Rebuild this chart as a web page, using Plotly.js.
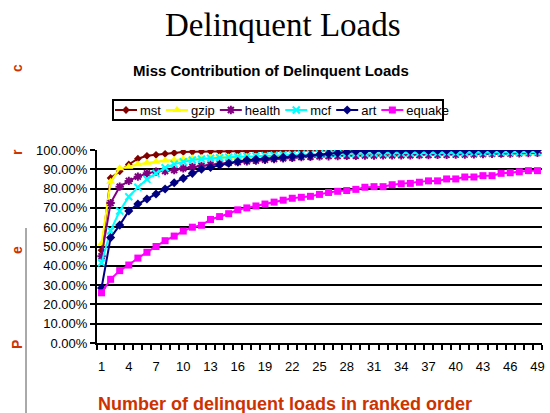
<!DOCTYPE html>
<html>
<head>
<meta charset="utf-8">
<script src="https://cdn.plot.ly/plotly-3.0.1.min.js"></script>
<style>
html,body{margin:0;padding:0;background:#fff;}
#chart{width:550px;height:413px;}
</style>
</head>
<body>
<div id="chart"></div>
<script>
var categories = [1,2,3,4,5,6,7,8,9,10,11,12,13,14,15,16,17,18,19,20,21,22,23,24,25,26,27,28,29,30,31,32,33,34,35,36,37,38,39,40,41,42,43,44,45,46,47,48,49];
var tickValues = [1,4,7,10,13,16,19,22,25,28,31,34,37,40,43,46,49];
var tickLabels = ['1','4','7','10','13','16','19','22','25','28','31','34','37','40','43','46','49'];
var yTicks = [0,10,20,30,40,50,60,70,80,90,100];
var yTickLabels = ['0.00%','10.00%','20.00%','30.00%','40.00%','50.00%','60.00%','70.00%','80.00%','90.00%','100.00%'];

var mst = [48,85.5,89,92.5,95.5,97,97.5,98,98.5,99,99.1,99.2,99.3,99.3,99.4,99.4,99.5,99.5,99.5,99.6,99.6,99.7,99.7,99.7,99.8,99.8,99.8,99.8,99.9,99.9,99.9,99.9,99.9,99.9,100,100,100,100,100,100,100,100,100,100,100,100,100,100,100];
var gzip = [51.5,83.5,90.5,91.3,92.6,93.4,93.9,94.5,94.8,95.3,95.7,95.9,96,96.2,96.3,96.4,96.5,96.6,96.7,96.8,96.9,97,97,97.1,97.2,97.3,97.3,97.4,97.5,97.5,97.6,97.7,97.7,97.8,97.8,97.9,97.9,98,98,98.1,98.1,98.2,98.2,98.3,98.3,98.4,98.4,98.5,98.5];
var health = [45,72.5,81,84,86.2,87.9,88.8,89.1,89.6,90.5,91.2,91.8,92.4,92.9,93.3,93.7,94.1,94.5,94.9,95.3,95.7,96,96.3,96.5,96.7,96.8,96.9,97,97,97.1,97.1,97.2,97.2,97.3,97.3,97.4,97.4,97.5,97.5,97.6,97.7,97.8,97.9,98,98.1,98.2,98.3,98.4,98.5];
var mcf = [41.6,58.2,68.4,75.8,80.7,84.8,87.9,90.8,92.7,93.9,94.8,95.3,95.7,96,96.3,96.5,96.7,96.9,97.1,97.3,97.5,97.7,97.8,97.9,98,98.1,98.1,98.2,98.2,98.3,98.3,98.3,98.4,98.4,98.4,98.5,98.5,98.5,98.6,98.6,98.6,98.7,98.7,98.7,98.8,98.8,98.8,98.9,98.9];
var art = [28.5,54.6,61.1,68.4,72,74.6,77.2,79.8,83,85.3,87.9,90,91,92.2,93.1,94,94.8,95.2,95.5,95.8,96.2,96.6,96.9,97.2,97.6,98,98.5,99,99.3,99.5,99.6,99.6,99.7,99.7,99.7,99.8,99.8,99.8,99.8,99.9,99.9,99.9,99.9,99.9,100,100,100,100,100];
var equake = [26,33,37.5,40.4,44,47,50,53,55.4,58,60,61,64,65.5,67,69,70,71,72,73,74,75,75.5,76,77,78,78.6,79,79.6,80.7,81,81,82,82.5,82.7,83.3,84,84,85,85,86,86,86.7,86.7,87.9,88.2,88.7,89.3,89.3];

var seriesNames = ['mst','gzip','health','mcf','art','equake'];
var seriesData = [mst, gzip, health, mcf, art, equake];
var seriesColors = ['#800000','#FFFF00','#800080','#00FFFF','#000080','#FF00FF'];
var seriesSymbols = ['diamond','triangle-up','asterisk-open','x-thin-open','diamond','square'];
var seriesSizes = [6,8,7,7,7,7];

var traces = seriesNames.map(function(name, i){
  var open = seriesSymbols[i].indexOf('open') >= 0;
  return {
    type: 'scatter',
    mode: 'lines+markers',
    name: name,
    x: categories,
    y: seriesData[i],
    line: {color: seriesColors[i], width: 2},
    marker: {symbol: seriesSymbols[i], size: seriesSizes[i], color: seriesColors[i],
             line: {color: seriesColors[i], width: open ? 2 : 0}}
  };
});

var orange = '#CC3300';
var F = 'Liberation Sans, Arial, sans-serif';
function py(p){ return (343 - p) / 193; }
function px(p){ return (p - 97) / 445; }

var layout = {
  width: 550, height: 413,
  margin: {l: 97, r: 8, t: 150, b: 70},
  paper_bgcolor: '#fff', plot_bgcolor: '#fff',
  font: {family: F, size: 13, color: '#000'},
  showlegend: true,
  legend: {
    orientation: 'h', x: px(278), xanchor: 'center', y: py(99), yanchor: 'top',
    bordercolor: '#000', borderwidth: 2, bgcolor: '#fff',
    font: {family: F, size: 13, color: '#000'},
    itemwidth: 30, tracegroupgap: 0
  },
  xaxis: {
    range: [0.5, 49.5], tickvals: tickValues, ticktext: tickLabels,
    ticks: '', showgrid: false, zeroline: false,
    showline: true, linecolor: '#000', linewidth: 2,
    tickfont: {family: F, size: 13, color: '#000'},
    ticklabelstandoff: 10,
    minor: {tick0: 0.5, dtick: 1, ticks: 'outside', ticklen: 5, tickwidth: 2, tickcolor: '#000', showgrid: false}
  },
  yaxis: {
    range: [0, 100], tickvals: yTicks, ticktext: yTickLabels,
    ticks: 'outside', ticklen: 5, tickwidth: 2, tickcolor: '#000',
    showgrid: true, gridcolor: '#000', gridwidth: 2, zeroline: false,
    showline: true, linecolor: '#000', linewidth: 2,
    tickfont: {family: F, size: 13, color: '#000'}
  },
  annotations: [
    {text: 'Delinquent Loads', xref: 'paper', yref: 'paper', x: px(283), y: py(25), xanchor: 'center', yanchor: 'middle', showarrow: false,
     font: {family: 'Liberation Serif, Times New Roman, serif', size: 33, color: '#000'}},
    {text: '<b>Miss Contribution of Delinquent Loads</b>', xref: 'paper', yref: 'paper', x: px(271), y: py(70), xanchor: 'center', yanchor: 'middle', showarrow: false,
     font: {family: F, size: 15, color: '#000'}},
    {text: '<b>Number of delinquent loads in ranked order</b>', xref: 'paper', yref: 'paper', x: px(285), y: py(404), xanchor: 'center', yanchor: 'middle', showarrow: false,
     font: {family: F, size: 18, color: orange}},
    {text: '<b>c</b>', xref: 'paper', yref: 'paper', x: px(17), y: py(68), xanchor: 'center', yanchor: 'middle', showarrow: false, textangle: -90,
     font: {family: F, size: 14, color: orange}},
    {text: '<b>r</b>', xref: 'paper', yref: 'paper', x: px(17), y: py(152), xanchor: 'center', yanchor: 'middle', showarrow: false, textangle: -90,
     font: {family: F, size: 14, color: orange}},
    {text: '<b>e</b>', xref: 'paper', yref: 'paper', x: px(17), y: py(250), xanchor: 'center', yanchor: 'middle', showarrow: false, textangle: -90,
     font: {family: F, size: 14, color: orange}},
    {text: '<b>P</b>', xref: 'paper', yref: 'paper', x: px(17), y: py(345), xanchor: 'center', yanchor: 'middle', showarrow: false, textangle: -90,
     font: {family: F, size: 14, color: orange}}
  ],
  shapes: [
    {type: 'line', xref: 'paper', yref: 'paper', x0: px(26), x1: px(26), y0: py(228), y1: py(413), line: {color: '#555', width: 1}}
  ]
};

Plotly.newPlot('chart', traces, layout, {displayModeBar: false, staticPlot: true}).then(function(gd){
  // compact the legend like the original (short line samples, tight spacing)
  var leg = gd.querySelector('g.legend');
  if(!leg) return;
  leg.setAttribute('transform', 'translate(112,99)');
  var items = leg.querySelectorAll('g.traces');
  var x = 3;
  items.forEach(function(it){
    it.setAttribute('transform', 'translate(' + x + ',11)');
    it.querySelectorAll('.legendlines path').forEach(function(p){ p.setAttribute('d', 'M0,0h22'); });
    it.querySelectorAll('.legendpoints path').forEach(function(p){ p.setAttribute('transform', 'translate(11,0)'); });
    var t = it.querySelector('text.legendtext');
    var w = 20;
    if(t){ t.setAttribute('x', 25); w = t.getComputedTextLength(); }
    x += 25 + w + 5;
  });
  var bg = leg.querySelector('rect.bg');
  if(bg){ bg.setAttribute('x', 1); bg.setAttribute('y', 1); bg.setAttribute('width', 330); bg.setAttribute('height', 20); }
  var sb = leg.querySelector('g.scrollbox');
  if(sb){ sb.setAttribute('transform', 'translate(0,0)'); }
  gd.querySelectorAll('clipPath[id*="legend"] rect').forEach(function(r){ r.setAttribute('x', 0); r.setAttribute('y', 0); r.setAttribute('width', 345); r.setAttribute('height', 22); });
});
</script>
</body>
</html>
